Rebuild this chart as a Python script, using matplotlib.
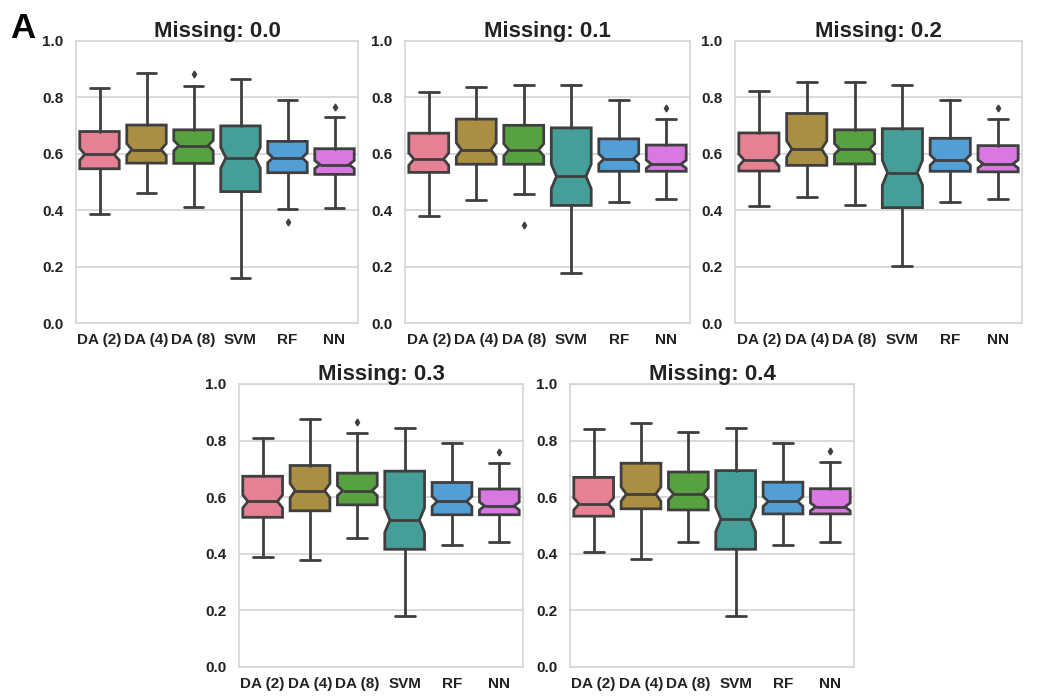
import numpy as np
import matplotlib
matplotlib.use("Agg")
import matplotlib.pyplot as plt
import seaborn as sns

methods = ["DA (2)", "DA (4)", "DA (8)", "SVM", "RF", "NN"]
missing = ["0.0", "0.1", "0.2", "0.3", "0.4"]

# per panel, one value per method
whishi = [
    [0.832, 0.885, 0.840, 0.864, 0.792, 0.731],
    [0.820, 0.838, 0.844, 0.844, 0.790, 0.723],
    [0.821, 0.853, 0.853, 0.845, 0.791, 0.724],
    [0.808, 0.877, 0.828, 0.845, 0.792, 0.722],
    [0.841, 0.863, 0.832, 0.845, 0.793, 0.724],
]
q3 = [
    [0.679, 0.702, 0.685, 0.699, 0.644, 0.618],
    [0.673, 0.723, 0.701, 0.692, 0.653, 0.631],
    [0.674, 0.743, 0.685, 0.689, 0.655, 0.629],
    [0.674, 0.712, 0.685, 0.692, 0.652, 0.629],
    [0.670, 0.720, 0.689, 0.694, 0.653, 0.630],
]
med = [
    [0.598, 0.615, 0.629, 0.586, 0.586, 0.562],
    [0.581, 0.614, 0.614, 0.520, 0.582, 0.563],
    [0.578, 0.617, 0.617, 0.533, 0.578, 0.564],
    [0.585, 0.623, 0.623, 0.519, 0.585, 0.569],
    [0.576, 0.611, 0.611, 0.522, 0.585, 0.566],
]
q1 = [
    [0.547, 0.567, 0.566, 0.466, 0.533, 0.527],
    [0.534, 0.563, 0.563, 0.417, 0.538, 0.538],
    [0.539, 0.559, 0.564, 0.409, 0.538, 0.536],
    [0.529, 0.552, 0.573, 0.416, 0.538, 0.538],
    [0.533, 0.559, 0.555, 0.416, 0.541, 0.541],
]
whislo = [
    [0.387, 0.462, 0.412, 0.158, 0.405, 0.409],
    [0.379, 0.437, 0.458, 0.178, 0.430, 0.439],
    [0.415, 0.448, 0.418, 0.203, 0.430, 0.439],
    [0.387, 0.378, 0.455, 0.179, 0.430, 0.441],
    [0.405, 0.383, 0.442, 0.180, 0.431, 0.442],
]
outliers = [
    [[], [], [0.882], [], [0.359], [0.765]],
    [[], [], [0.349], [], [], [0.763]],
    [[], [], [], [], [], [0.764]],
    [[], [], [0.865], [], [], [0.761]],
    [[], [], [], [], [], [0.764]],
]
n_obs = 100  # used only for the notch size

colors = [sns.desaturate(c, 0.75) for c in sns.color_palette("husl", 6)]
line_c = "#3f3f3f"
box_w = 0.84
notch_in = 0.37  # notch tip distance from centre, in box widths

sns.set_style("whitegrid")
plt.rcParams["font.family"] = ["Liberation Sans", "DejaVu Sans"]

fig = plt.figure(figsize=(10.61, 6.98), dpi=100)
W, H = 1061, 698
# panel boxes in pixels: left, top, right, bottom
boxes = [(76, 41, 358, 323), (405, 41, 690, 323), (735, 41, 1022, 323),
         (239, 384, 523, 667), (570, 384, 854, 667)]

for p, (l, t, r, b) in enumerate(boxes):
    ax = fig.add_axes([l / W, 1 - b / H, (r - l) / W, (b - t) / H])
    stats = []
    for i in range(len(methods)):
        iqr = q3[p][i] - q1[p][i]
        ci = 1.57 * iqr / np.sqrt(n_obs)
        stats.append(dict(med=med[p][i], q1=q1[p][i], q3=q3[p][i],
                          whislo=whislo[p][i], whishi=whishi[p][i],
                          cilo=med[p][i] - ci, cihi=med[p][i] + ci,
                          fliers=outliers[p][i]))
    pos = list(range(len(methods)))
    art = ax.bxp(stats, positions=pos, widths=box_w,
                 shownotches=True, patch_artist=True,
                 boxprops=dict(edgecolor=line_c, linewidth=2.0),
                 whiskerprops=dict(color=line_c, linewidth=2.0),
                 capprops=dict(color=line_c, linewidth=2.0),
                 medianprops=dict(color=line_c, linewidth=2.0),
                 flierprops=dict(marker="d", markersize=3.5,
                                 markerfacecolor=line_c, markeredgecolor=line_c))
    for x0, patch, mline, c in zip(pos, art["boxes"], art["medians"], colors):
        patch.set_facecolor(c)
        # shallower notch than matplotlib's default
        v = patch.get_path().vertices
        v[3, 0] = x0 + box_w * notch_in
        v[8, 0] = x0 - box_w * notch_in
        mline.set_xdata([x0 - box_w * notch_in, x0 + box_w * notch_in])

    ax.set_xlim(-0.5, len(methods) - 0.5)
    ax.set_ylim(0, 1.0)
    ax.set_yticks(np.arange(0, 1.01, 0.2))
    ax.set_yticklabels(["%.1f" % v for v in np.arange(0, 1.01, 0.2)])
    ax.set_xticks(pos)
    ax.set_xticklabels(methods)
    ax.xaxis.grid(False)
    ax.yaxis.grid(True, color="#d8d8d8", linewidth=1.3)
    for s in ax.spines.values():
        s.set_color("#d6d6d6")
        s.set_linewidth(1.2)
    ax.tick_params(axis="both", length=0, labelsize=11, labelcolor="#222222")
    ax.tick_params(axis="y", pad=9)
    ax.tick_params(axis="x", pad=7)
    for lab in ax.get_xticklabels() + ax.get_yticklabels():
        lab.set_fontweight("bold")
    ax.set_title("Missing: " + missing[p], fontsize=16, fontweight="bold",
                 color="#222222", pad=3)

fig.text(10 / W, 1 - 38 / H, "A", fontsize=25, fontweight="bold", color="black")

fig.savefig("out.png", dpi=100)
